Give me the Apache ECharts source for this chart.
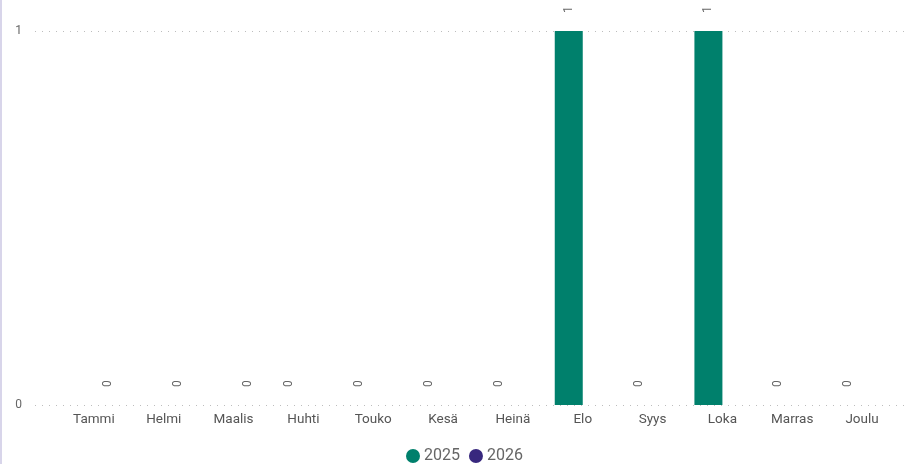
<!DOCTYPE html>
<html><head><meta charset="utf-8">
<script src="https://cdn.jsdelivr.net/npm/echarts@6/dist/echarts.min.js"></script>
<style>html,body{margin:0;padding:0;background:#fff}#c{width:914px;height:464px}</style>
</head><body><div id="c"></div>
<script>
var categories = ['Tammi','Helmi','Maalis','Huhti','Touko','Kesä','Heinä','Elo','Syys','Loka','Marras','Joulu'];
var values2025 = [null,null,null,0,0,0,0,1,0,1,0,0];
var values2026 = [0,0,0,null,null,null,null,null,null,null,null,null];
var seriesNames = ['2025','2026'];
var yTicks = [0,1];

function labelData(vals){
  var out = [];
  vals.forEach(function(v,i){ if(v !== null) out.push([i, v]); });
  return out;
}
function makeLabelSeries(vals, dx){
  return {
    type:'custom', xAxisIndex:1, yAxisIndex:1, silent:true, z:5,
    data: labelData(vals),
    renderItem:function(params, api){
      var p = api.coord([api.value(0), api.value(1)]);
      return {type:'text', x:p[0]+dx, y:p[1]-18, rotation:Math.PI/2,
        style:{text:String(api.value(1)), fill:'#666', font:'12px Roboto, sans-serif', align:'left', verticalAlign:'middle'}};
    }
  };
}

var chart = echarts.init(document.getElementById('c'));
chart.setOption({
  animation:false,
  color:['#00806c','#38287e'],
  graphic:[{type:'rect',shape:{x:0,y:0,width:2,height:464},style:{fill:'#d8d5ea'}}],
  legend:{top:443,left:401,itemWidth:14,itemHeight:14,itemGap:9,icon:'circle',
    textStyle:{color:'#666',fontSize:16,fontFamily:'Roboto, sans-serif',padding:[0,0,0,-1]},data:seriesNames},
  grid:[{left:35,right:4,top:31,bottom:59,containLabel:false},{left:59,right:17,top:31,bottom:59}],
  xAxis:[
    {gridIndex:0,type:'category',data:[''],show:false},
    {gridIndex:1,type:'category',data:categories,axisLine:{show:false},axisTick:{show:false},
     axisLabel:{color:'#555',fontSize:13.5,margin:8,fontFamily:'Roboto, sans-serif',interval:0}}
  ],
  yAxis:[
    {gridIndex:0,type:'value',min:0,max:1,interval:1,axisLine:{show:false},axisTick:{show:false},
     axisLabel:{color:'#666',fontSize:12,margin:13,fontFamily:'Roboto, sans-serif',formatter:function(v){return yTicks.indexOf(v)>=0?String(v):'';}},
     splitLine:{show:true,lineStyle:{color:'#bdbdbd',type:[1,6],width:1.2}}},
    {gridIndex:1,type:'value',min:0,max:1,interval:1,show:false,splitLine:{show:false}}
  ],
  series:[
    {name:seriesNames[0],type:'bar',xAxisIndex:1,yAxisIndex:1,data:values2025,barWidth:28,barGap:'0%'},
    {name:seriesNames[1],type:'bar',xAxisIndex:1,yAxisIndex:1,data:values2026,barWidth:28,barGap:'0%'},
    makeLabelSeries(values2025, -14),
    makeLabelSeries(values2026, 14)
  ]
});
</script></body></html>
